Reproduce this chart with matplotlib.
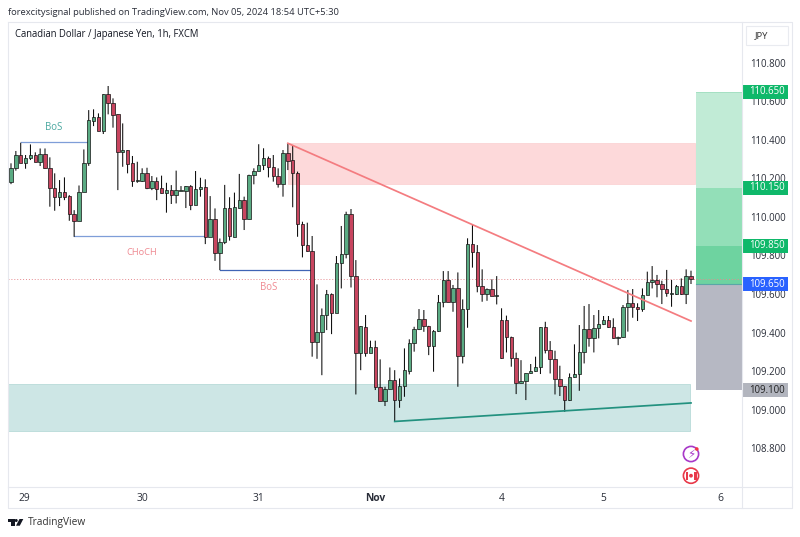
import matplotlib
matplotlib.use("Agg")
import matplotlib.pyplot as plt
from matplotlib.patches import Rectangle, Circle, Polygon
from matplotlib.ticker import FixedLocator, FixedFormatter

opens = [110.182,110.252,110.319,110.281,110.307,110.319,110.284,110.324,110.252,110.148,
         110.105,110.127,110.108,110.016,109.980,110.131,110.278,110.499,110.516,110.447,
         110.636,110.589,110.532,110.338,110.345,110.278,110.184,110.186,110.226,110.148,
         110.184,110.148,110.125,110.137,110.113,110.136,110.136,110.158,110.063,110.143,
         110.153,109.897,109.989,109.814,109.871,110.044,109.897,110.048,110.086,109.987,
         110.216,110.240,110.268,110.307,110.261,110.214,110.169,110.330,110.294,110.226,
         109.961,109.856,109.825,109.349,109.401,109.489,109.598,109.503,109.759,109.806,
         110.013,109.695,109.295,109.430,109.295,109.323,109.119,109.046,109.105,109.152,
         109.050,109.121,109.202,109.344,109.416,109.468,109.435,109.332,109.410,109.557,
         109.673,109.560,109.629,109.280,109.520,109.858,109.820,109.643,109.598,109.624,
         109.590,109.463,109.463,109.379,109.270,109.140,109.150,109.188,109.202,109.223,
         109.427,109.309,109.261,109.157,109.123,109.052,109.168,109.183,109.297,109.417,
         109.370,109.422,109.443,109.463,109.427,109.373,109.375,109.533,109.555,109.533,
         109.520,109.597,109.661,109.674,109.652,109.628,109.600,109.598,109.640,109.598,109.695]
highs = [110.278,110.342,110.385,110.321,110.376,110.335,110.355,110.355,110.309,110.226,
         110.191,110.205,110.113,110.035,110.163,110.350,110.554,110.558,110.537,110.636,
         110.679,110.615,110.532,110.485,110.345,110.316,110.286,110.252,110.255,110.212,
         110.205,110.214,110.177,110.165,110.240,110.160,110.160,110.165,110.238,110.203,
         110.195,110.108,110.044,109.888,110.166,110.102,110.126,110.223,110.105,110.219,
         110.252,110.377,110.356,110.313,110.321,110.252,110.347,110.382,110.373,110.235,
         109.975,109.970,109.901,109.650,109.525,109.621,109.603,109.797,109.953,110.027,
         110.041,109.776,109.434,109.491,109.358,109.358,109.261,109.119,109.219,109.205,
         109.162,109.318,109.365,109.430,109.522,109.517,109.435,109.413,109.595,109.719,
         109.719,109.647,109.712,109.572,109.889,109.962,109.854,109.728,109.629,109.676,
         109.693,109.526,109.488,109.379,109.296,109.257,109.188,109.237,109.275,109.427,
         109.456,109.356,109.306,109.228,109.123,109.188,109.339,109.439,109.538,109.548,
         109.491,109.517,109.486,109.486,109.474,109.379,109.543,109.621,109.626,109.552,
         109.629,109.716,109.745,109.699,109.669,109.725,109.673,109.647,109.681,109.728,109.721]
lows = [110.170,110.240,110.281,110.250,110.295,110.284,110.264,110.250,110.053,110.032,
        110.056,110.087,109.980,109.897,109.980,110.131,110.265,110.471,110.445,110.430,
        110.532,110.463,110.139,110.260,110.226,110.156,110.177,110.181,110.144,110.139,
        110.087,110.122,110.022,110.067,110.070,110.136,110.046,110.035,110.063,110.105,
        109.859,109.897,109.772,109.724,109.859,109.877,109.894,110.044,109.932,109.987,
        110.169,110.240,110.243,110.205,110.183,110.152,110.105,110.243,110.050,109.897,
        109.790,109.820,109.275,109.264,109.179,109.413,109.392,109.503,109.629,109.785,
        109.634,109.079,109.205,109.275,109.295,109.102,109.046,109.019,109.105,108.939,
        109.010,109.067,109.183,109.301,109.413,109.404,109.283,109.197,109.404,109.531,
        109.558,109.508,109.119,109.240,109.425,109.737,109.609,109.560,109.565,109.590,
        109.546,109.264,109.297,109.223,109.081,109.138,109.050,109.188,109.197,109.185,
        109.292,109.188,109.079,109.071,108.989,109.045,109.166,109.098,109.240,109.327,
        109.297,109.370,109.439,109.425,109.368,109.335,109.373,109.405,109.477,109.460,
        109.508,109.595,109.629,109.583,109.548,109.586,109.534,109.595,109.595,109.548,109.652]
closes = [110.252,110.319,110.281,110.307,110.319,110.286,110.324,110.252,110.148,110.105,
          110.127,110.105,110.015,109.980,110.131,110.278,110.501,110.516,110.447,110.636,
          110.589,110.530,110.338,110.345,110.276,110.184,110.189,110.226,110.148,110.184,
          110.144,110.125,110.137,110.113,110.137,110.137,110.158,110.063,110.143,110.153,
          109.897,109.989,109.814,109.871,110.044,109.901,110.050,110.086,109.987,110.216,
          110.240,110.268,110.307,110.261,110.214,110.169,110.330,110.292,110.226,109.961,
          109.856,109.825,109.349,109.401,109.489,109.598,109.503,109.759,109.806,110.013,
          109.695,109.295,109.434,109.295,109.323,109.119,109.046,109.105,109.152,109.050,
          109.121,109.205,109.344,109.416,109.468,109.435,109.332,109.410,109.557,109.673,
          109.560,109.629,109.280,109.520,109.858,109.820,109.643,109.598,109.624,109.591,
          109.593,109.266,109.379,109.270,109.140,109.150,109.188,109.202,109.223,109.427,
          109.309,109.261,109.157,109.123,109.052,109.168,109.183,109.297,109.417,109.370,
          109.422,109.443,109.463,109.427,109.370,109.377,109.533,109.555,109.533,109.520,
          109.597,109.661,109.674,109.652,109.628,109.607,109.607,109.640,109.598,109.695,109.676]

price_ticks = [108.8,109.0,109.2,109.4,109.6,109.8,110.0,110.2,110.4,110.6,110.8]
day_ticks = [2.7,27,51,75,101,122,146]
day_labels = ["29","30","31","Nov","4","5","6"]

supply_zone = (110.170,110.382)
demand_zone = (108.890,109.131)
target_levels = [110.650,110.150,109.850]
entry_level = 109.650
stop_level = 109.100
last_price = 109.676
down_trend = ([57,140],[110.382,109.460])
up_trend = ([79,140],[108.939,109.035])
bos_up = ([2,16],[110.387,110.387])
choch = ([13,40],[109.901,109.901])
bos_down = ([43,62],[109.724,109.724])

FONT = "Open Sans"
plt.rcParams["font.family"] = [FONT,"DejaVu Sans"]
W,H = 800,537
fig = plt.figure(figsize=(W/100,H/100),dpi=100,facecolor="white")

L,R,T,B = 8,742,22,487
ax = fig.add_axes([L/W,1-B/H,(R-L)/W,(B-T)/H])
ax.set_xlim(-0.618,150.5)
ax.set_ylim(108.599,111.011)
for s in ax.spines.values():
    s.set_visible(False)

ax.yaxis.tick_right()
ax.yaxis.set_major_locator(FixedLocator(price_ticks))
ax.yaxis.set_major_formatter(FixedFormatter([f"{p:.3f}" for p in price_ticks]))
ax.tick_params(axis="y",length=0,pad=6.0,labelsize=6.9,labelcolor="#2a2e39")
ax.xaxis.set_major_locator(FixedLocator(day_ticks))
ax.xaxis.set_major_formatter(FixedFormatter(day_labels))
ax.tick_params(axis="x",length=0,pad=4.2,labelsize=7.4,labelcolor="#2a2e39")
for lab,txt in zip(ax.get_xticklabels(),day_labels):
    if txt=="Nov":
        lab.set_fontweight("bold")

# zones
ax.add_patch(Rectangle((57,supply_zone[0]),83.9,supply_zone[1]-supply_zone[0],fc="#fdd9da",ec="#fbcfd0",lw=.5,zorder=1))
ax.add_patch(Rectangle((-0.618,demand_zone[0]),140.5,demand_zone[1]-demand_zone[0],fc="#cde6e5",ec="#b8dbd9",lw=.6,zorder=1))

# position tool
tx0,tx1 = 141,150.5
bands = [(target_levels[1],target_levels[0],"#c1ebd6"),
         (target_levels[2],target_levels[1],"#93dfb8"),
         (entry_level,target_levels[2],"#6ed3a0"),
         (stop_level,entry_level,"#b6b8c3")]
for lo,hi,c in bands:
    ax.add_patch(Rectangle((tx0,lo),tx1-tx0,hi-lo,fc=c,ec="none",zorder=1))
ax.plot([tx0,tx1],[target_levels[0]]*2,color="#a5e0c3",lw=.7,zorder=1.2)
ax.plot([tx0,tx1],[entry_level]*2,color="#5aa7a7",lw=.8,zorder=1.2)

# last price line
ax.axhline(last_price,color="#e58a8f",lw=.7,ls=(0,(1,2)),zorder=1.3)

# structure lines
ax.plot(*bos_up,color="#7f9ed8",lw=.9,zorder=1.5)
ax.plot(*choch,color="#7f9ed8",lw=.9,zorder=1.5)
ax.plot(*bos_down,color="#3f64b5",lw=.9,zorder=1.5)
ax.text(8.7,110.465,"BoS",color="#4aa8a0",fontsize=6.9,ha="center",va="center")
ax.text(27,109.815,"CHoCH",color="#ef8a92",fontsize=6.7,ha="center",va="center")
ax.text(53,109.635,"BoS",color="#ef8a92",fontsize=6.9,ha="center",va="center")

# candles
for i,(o,h,l,c) in enumerate(zip(opens,highs,lows,closes)):
    ax.plot([i,i],[l,h],color="black",lw=.72,solid_capstyle="butt",zorder=3,snap=False)
    col = "#5aab83" if c>=o else "#c8455f"
    ax.add_patch(Rectangle((i-.36,min(o,c)),.72,abs(c-o),fc=col,ec="#111111",lw=.5,zorder=4))

# trend lines
ax.plot(*down_trend,color="#f47c80",lw=1.25,zorder=5)
ax.plot(*up_trend,color="#22917f",lw=1.25,zorder=5)

# price labels
ytr = ax.get_yaxis_transform()
def price_label(p,fc,tc):
    ax.add_patch(Rectangle((1.0,p-.0363),46/734,.0726,transform=ytr,fc=fc,ec="none",clip_on=False,zorder=10))
    ax.text(1+25/734,p,f"{p:.3f}",transform=ytr,color=tc,fontsize=6.9,ha="center",va="center",clip_on=False,zorder=11)
for p in target_levels:
    price_label(p,"#0fb86a","white")
price_label(entry_level,"#2962ff","white")
price_label(stop_level,"#b2b5be","#222222")

# overlay: frame, header, logo, icons
ov = fig.add_axes([0,0,1,1],zorder=5)
ov.set_xlim(0,W); ov.set_ylim(H,0); ov.axis("off"); ov.patch.set_alpha(0)
edge = "#e6e8ee"
ov.plot([8,8,792,792,8],[22,508,508,22,22],color=edge,lw=.8)
ov.plot([742,742],[22,508],color=edge,lw=.8)
ov.plot([8,792],[487,487],color=edge,lw=.8)
ov.add_patch(Rectangle((746,26),42,19,fc="white",ec="#e9ebf0",lw=.8))
ov.text(761,35.5,"JPY",fontsize=6.8,color="#333333",ha="center",va="center")
ov.text(8,12.5,"forexcitysignal published on TradingView.com, Nov 05, 2024 18:54 UTC+5:30",
        fontsize=6.72,color="#2a2e39",va="center")
ov.text(15,34.5,"Canadian Dollar / Japanese Yen, 1h, FXCM",fontsize=6.85,color="#131722",va="center")
# logo
ov.add_patch(Polygon([(8,519),(14.5,519),(14.5,525.7),(11,525.7),(11,521.8),(8,521.8)],fc="#131722",ec="none"))
ov.add_patch(Circle((16.2,520.5),1.5,fc="#131722",ec="none"))
ov.add_patch(Polygon([(19.5,519),(23.3,519),(19.8,525.7),(16,525.7)],fc="#131722",ec="none"))
ov.text(27.5,523,"TradingView",fontsize=7.3,color="#333333",va="center")
# icons
ov.add_patch(Circle((691,454),7.6,fc="white",ec="#a838c8",lw=1.2))
ov.text(691,454.3,"\u26a1",fontsize=8.5,color="#a838c8",ha="center",va="center",family="DejaVu Sans")
ov.add_patch(Circle((696.8,449),1.8,fc="#f23645",ec="none"))
ov.add_patch(Circle((691,475.7),7.6,fc="white",ec="#e8394a",lw=1.2))
ov.add_patch(Rectangle((685.5,471.5),2.4,8.4,fc="#e8394a",ec="none"))
ov.add_patch(Rectangle((694.1,471.5),2.4,8.4,fc="#e8394a",ec="none"))
ov.add_patch(Circle((691,475.7),1.9,fc="#e8394a",ec="none"))

fig.savefig("out.png",dpi=100)
